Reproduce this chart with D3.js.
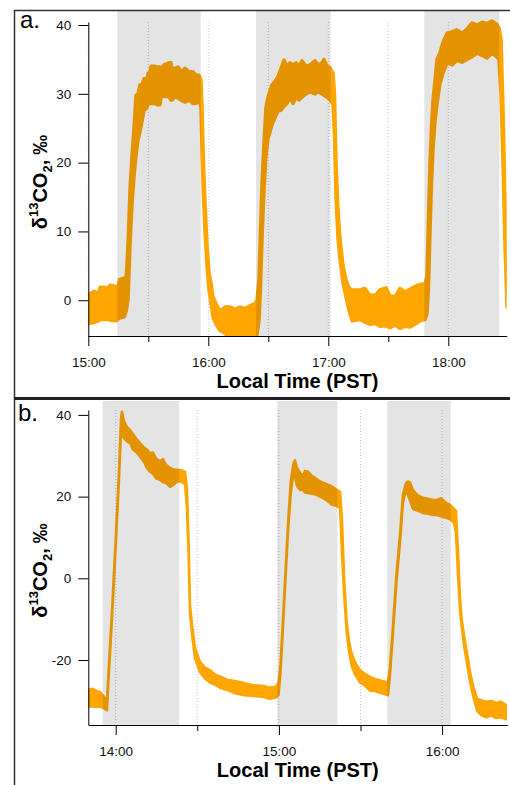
<!DOCTYPE html>
<html><head><meta charset="utf-8">
<script src="https://cdn.jsdelivr.net/npm/d3@7"></script>
<style>html,body{margin:0;padding:0;background:#fff;} svg{display:block;}</style>
</head><body>
<svg id="chart" width="510" height="785"></svg>
<script>
// ---------- Panel a data (time = minutes since midnight) ----------
const aTime = [900.0,903.0,905.0,906.0,910.0,911.0,914.0,914.5,915.5,918.0,919.0,919.85,920.85,921.85,922.85,923.85,924.85,925.85,926.85,927.85,929.35,929.85,930.85,931.35,933.35,934.35,935.85,936.35,937.85,940.35,941.35,941.85,943.35,944.85,946.35,948.35,950.35,952.35,953.85,955.35,956.35,956.85,957.6,958.35,959.35,960.35,961.35,962.35,963.85,965.85,968.35,970.85,973.35,975.85,978.35,980.85,983.35,984.35,985.35,986.1,986.85,987.85,988.85,989.85,990.85,991.85,993.35,994.85,996.35,997.85,999.35,1000.85,1002.35,1003.85,1005.35,1006.85,1008.85,1010.85,1013.35,1014.85,1016.85,1017.85,1019.35,1020.85,1022.35,1023.1,1023.85,1024.85,1025.85,1027.35,1028.85,1030.35,1031.85,1035.85,1038.35,1040.85,1043.85,1045.85,1048.85,1050.85,1053.35,1055.85,1058.35,1060.85,1063.35,1065.85,1068.35,1069.35,1070.1,1070.85,1071.6,1072.35,1073.35,1074.35,1075.85,1077.35,1079.35,1081.85,1084.35,1086.85,1089.35,1091.85,1094.35,1096.85,1099.35,1101.85,1103.85,1105.35,1106.35,1107.35,1108.35,1109.35];
const aLow  = [-3.4,-3.2,-3.0,-2.8,-2.8,-2.9,-3.0,-2.8,-2.6,-2.4,-1.5,0,8,14,18,21,23.3,24.5,26,27.6,28.0,28.6,28.6,28.6,28.6,28.4,28.4,29.6,29.6,29.6,29.1,29.1,29.6,29.4,29.1,28.8,29.1,28.6,28.6,29.1,28,22,15,10,5,1.5,-0.5,-2.5,-3.5,-4.4,-4.8,-5.6,-5.4,-5.6,-5.6,-5.5,-5.5,-5,-3,2,9,16,21,23.5,24.5,25.5,26.5,27.5,27.6,28.2,28.6,29.5,28.6,29.5,29.1,29.5,30.0,30.3,30.0,30.3,30.0,29.8,29.5,29.1,28.5,24,15,9,6,2.5,0.5,-1.5,-3.0,-2.8,-3.2,-3.5,-3.4,-3.8,-3.7,-4.0,-3.6,-4.1,-3.8,-3.9,-3.5,-3.0,-2.8,-2,2,10,17,22,26,28.5,31.5,33,34.5,34.2,34.9,34.6,35.0,35.4,35.9,35.6,35.2,35.9,35.5,35.0,30,20,8,-1];
const aHigh = [0.8,1.3,1.0,1.9,1.8,2.2,2.0,0.5,3.0,3.2,3.5,8,16,21,25,29.8,30,31.3,31.3,32.2,32.2,33,33,34,34,33.9,33.9,33.5,34.2,34.5,34.5,33.7,33.7,33.9,33.2,33.7,33.2,33.2,32.7,32.7,32,28,20,14,8,4,2.5,0.5,-0.5,-1.6,-1.0,-1.0,-1.3,-1.0,-1.2,-0.8,-0.5,0,3,10,17,23,28,29.5,30.5,31.3,31.8,32.5,33.7,34.9,34.0,34.5,34.2,34.5,34.0,34.8,34.0,34.2,34.8,34.2,34.5,35.0,34.0,33.8,33.0,30,20,13,9,5,3,1.8,1.5,1.5,1.7,0.7,0.8,1.5,1.8,0.6,0.5,1.7,1.2,1.6,2.0,2.3,2.4,3.5,12,20,25,29,32,35,36,37.5,38.8,39.0,39.3,38.8,39.4,40.3,40.0,40.4,40.2,40.6,40.2,39.6,38,28,15,3];
const aShadeStart = [914.5, 983.85, 1068];
const aShadeEnd   = [956.2, 1021.2, 1105.5];
const aYTicks = [0, 10, 20, 30, 40];
const aXMajor = [900, 960, 1020, 1080];
const aXLabels = ["15:00", "16:00", "17:00", "18:00"];
const aXMinor = [930, 990, 1050];

// ---------- Panel b data ----------
const bTime = [829.9,831.3,832.8,834.2,835.7,836.8,837.35,838.64,840.1,841.2,841.95,842.3,843.05,844.15,845.26,846.36,847.46,848.93,850.4,851.5,852.6,853.7,854.8,856.3,857.4,858.5,860.0,861.1,862.5,864.0,865.5,866.2,866.8,867.3,868.2,869.15,871.0,872.8,874.7,876.5,878.3,881.3,884.2,887.5,890.8,893.8,896.7,898.9,899.9,900.6,901.5,902.6,903.5,904.4,905.4,905.9,906.7,907.8,908.9,909.6,910.7,912.2,913.7,915.1,916.6,918.1,919.5,921.0,922.5,923.2,924.0,924.9,925.8,926.8,928.0,929.8,931.7,933.5,935.3,937.2,939.0,940.1,940.8,941.9,943.2,944.5,945.6,946.7,947.4,948.2,949.3,951.1,953.0,954.8,956.7,958.1,959.6,961.4,962.9,964.4,965.1,965.9,966.6,967.3,968.2,969.2,970.3,971.5,972.9,974.4,976.2,978.1,979.9,981.7,983.5];
const bLow  = [-31.5,-31.3,-31.5,-31.4,-31.8,-32.3,-25,-10,9,24,36,35,34.3,33.5,33.1,31.5,31,29.8,28.5,27,26.1,25.6,24.5,24.1,23.5,23.3,22.4,22.8,23.7,23.7,23,17,6,-8.5,-14.5,-19.5,-23,-24.5,-25.5,-26,-26.8,-27.4,-28.2,-28.6,-28.8,-29.0,-29.5,-29.2,-28.5,-23,-12,2,13,21,26,25,22.5,21.6,21.6,21.0,20.9,20.7,20.5,20.0,19.5,18.8,18.0,17.8,17.2,6,-4,-13,-18,-21.5,-23.5,-25.5,-26.3,-27.5,-27.6,-28,-28.4,-28.6,-24,-14,-1,8.5,18.5,21.5,20.5,19,17,16.5,16.0,15.8,15.5,15.5,15.2,14.8,14.5,13.5,11,0,-8,-12.5,-17,-21,-25.5,-29,-32.5,-33.5,-34.0,-33.6,-34.2,-34,-34.5];
const bHigh = [-27.3,-27.0,-27.5,-27.8,-29.0,-30.0,-23,-8,11,26,39,40.8,38.5,37,36.3,35.3,34.3,33.1,32,31.5,30.6,30.8,29.4,28.6,29.2,27.8,27,26.7,26.5,26.5,26.1,22,9,-6.5,-12,-17,-20.5,-21.8,-22.5,-23.5,-24,-24.9,-25.2,-25.7,-26.2,-26.3,-26.8,-26.5,-25.5,-21,-10,4,15,24,28.3,28.9,27,25.8,25.1,26.3,26.1,25,24.4,23.7,23.3,22.9,22.5,21.8,21.2,14,0,-10.5,-15.5,-18.5,-20.5,-22.5,-23.4,-24.1,-24.6,-25,-25.3,-25.5,-22,-12,1,10.5,20.5,23.3,23.7,23.5,21.6,20.3,19.7,19.5,19.2,19.2,19.6,18.5,18,17,16.5,6,-5,-10.5,-14.5,-18.5,-23,-26.5,-29.5,-29.8,-30.2,-30,-30.5,-30.2,-31];
const bShadeStart = [835.2, 899.4, 939.85];
const bShadeEnd   = [863.3, 921.5, 963.2];
const bYTicks = [-20, 0, 20, 40];
const bXMajor = [840, 900, 960];
const bXLabels = ["14:00", "15:00", "16:00"];
const bXMinor = [870, 930];

const FONT = "'Liberation Sans', Arial, Helvetica, sans-serif";
const ORANGE = "#FFA500";
const svg = d3.select("#chart");

// frame
svg.append("line").attr("x1",14).attr("x2",512).attr("y1",10.5).attr("y2",10.5).attr("stroke","#333").attr("stroke-width",1.5);
svg.append("line").attr("x1",14.5).attr("x2",14.5).attr("y1",10).attr("y2",790).attr("stroke","#333").attr("stroke-width",1.5);
svg.append("line").attr("x1",14).attr("x2",512).attr("y1",398.5).attr("y2",398.5).attr("stroke","#222").attr("stroke-width",3);

function panel(o) {
  const g = svg.append("g");
  const x = d3.scaleLinear().domain(o.xDomain).range([o.left, o.right]);
  const y = d3.scaleLinear().domain(o.yDomain).range([o.bottom, o.top]);
  const cid = "clip" + o.id;
  g.append("clipPath").attr("id", cid).append("rect")
    .attr("x", o.left).attr("y", o.bandTop).attr("width", o.right - o.left).attr("height", o.bottom - o.bandTop);

  // dotted vertical grid
  const gridVals = o.xMajor.concat(o.xMinor);
  g.selectAll(".grid").data(gridVals).enter().append("line")
    .attr("x1", d => x(d)).attr("x2", d => x(d)).attr("y1", o.top).attr("y2", o.bottom)
    .attr("stroke", "#c8c8c8").attr("stroke-width", 1).attr("stroke-dasharray", "1,2");

  // data band
  const pts = o.time.map((t, i) => ({t, lo: o.low[i], hi: o.high[i]}));
  const area = d3.area().x(d => x(d.t)).y0(d => y(d.lo)).y1(d => y(d.hi));
  g.append("path").datum(pts).attr("clip-path", `url(#${cid})`).attr("d", area)
    .attr("fill", ORANGE).attr("stroke", ORANGE).attr("stroke-width", o.sw).attr("stroke-linejoin", "round");

  // shaded periods (overlay)
  g.selectAll(".shade").data(o.shadeStart).enter().append("rect")
    .attr("x", d => x(d)).attr("y", o.bandTop)
    .attr("width", (d, i) => x(o.shadeEnd[i]) - x(d)).attr("height", o.bottom - o.bandTop)
    .attr("fill", "#000").attr("fill-opacity", 0.105);

  // y axis
  const ya = g.append("g").attr("transform", `translate(${o.left},0)`)
    .call(d3.axisLeft(y).tickValues(o.yTicks).tickFormat(d => String(d)).tickSize(10).tickSizeOuter(0).tickPadding(7));
  // x axis major
  const xa = g.append("g").attr("transform", `translate(0,${o.bottom})`)
    .call(d3.axisBottom(x).tickValues(o.xMajor).tickFormat((d, i) => o.xLabels[i]).tickSize(10).tickSizeOuter(0).tickPadding(11));
  const xm = g.append("g").attr("transform", `translate(0,${o.bottom})`)
    .call(d3.axisBottom(x).tickValues(o.xMinor).tickFormat("").tickSize(6).tickSizeOuter(0));
  xm.select(".domain").remove();
  [ya, xa, xm].forEach(a => {
    a.selectAll("text").style("font-family", FONT).style("font-size", "13.5px").attr("fill", "#111");
    a.selectAll("line,path").attr("stroke", "#000");
  });

  // axis titles
  g.append("text").attr("x", (o.left + o.right) / 2).attr("y", o.xTitleY).attr("text-anchor", "middle")
    .style("font-family", FONT).style("font-size", "20px").style("font-weight", "bold").attr("fill", "#000")
    .text("Local Time (PST)");
  const cy = (o.top + o.bottom) / 2 + 3;
  const t = g.append("text").attr("transform", `translate(47,${cy}) rotate(-90)`).attr("text-anchor", "middle")
    .style("font-family", FONT).style("font-size", "20px").style("font-weight", "bold").attr("fill", "#000");
  t.append("tspan").text("δ");
  t.append("tspan").attr("dy", -9).style("font-size", "13px").text("13");
  t.append("tspan").attr("dy", 9).text("CO");
  t.append("tspan").attr("dy", 5).style("font-size", "13px").text("2");
  t.append("tspan").attr("dy", -5).text(",");
  t.append("tspan").attr("dx", 5).text("‰");

  g.append("text").attr("x", o.labelX).attr("y", o.labelY).style("font-family", FONT).style("font-size", "24px")
    .attr("fill", "#000").text(o.label);
}

panel({id: "a", time: aTime, low: aLow, high: aHigh, shadeStart: aShadeStart, shadeEnd: aShadeEnd,
  yTicks: aYTicks, xMajor: aXMajor, xLabels: aXLabels, xMinor: aXMinor,
  xDomain: [900, 1109.2], yDomain: [-5.2, 40.44], left: 88.3, right: 506.7, top: 22, bottom: 336, bandTop: 11,
  sw: 3.5, xTitleY: 388, label: "a.", labelX: 20, labelY: 28});
panel({id: "b", time: bTime, low: bLow, high: bHigh, shadeStart: bShadeStart, shadeEnd: bShadeEnd,
  yTicks: bYTicks, xMajor: bXMajor, xLabels: bXLabels, xMinor: bXMinor,
  xDomain: [829.93, 983.97], yDomain: [-35.9, 41.2], left: 88.3, right: 507.3, top: 410, bottom: 725, bandTop: 401,
  sw: 2.5, xTitleY: 777, label: "b.", labelX: 18, labelY: 421});
</script>
</body></html>
